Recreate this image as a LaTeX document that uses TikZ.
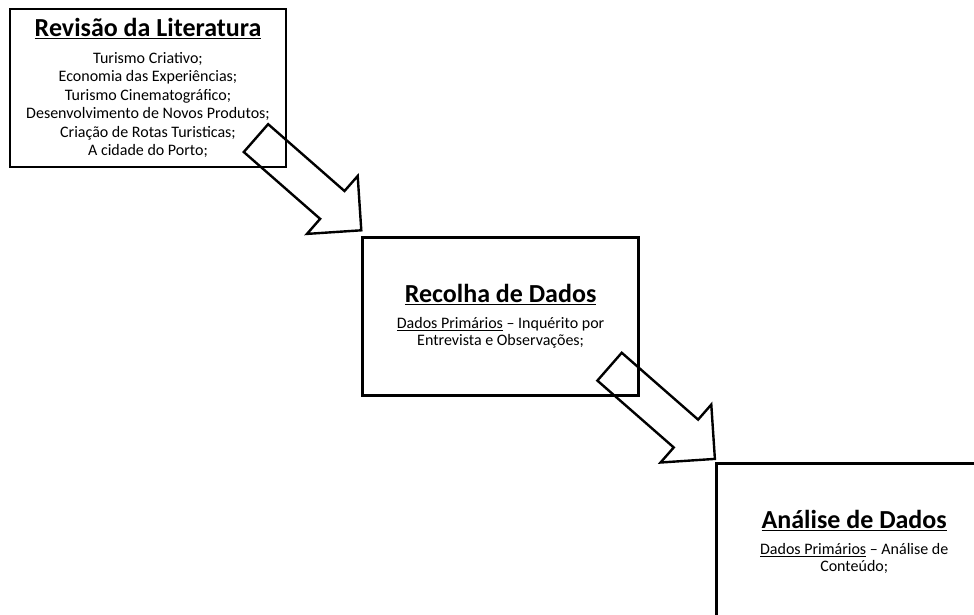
\documentclass[tikz,border=0pt]{standalone}
\usepackage{fontspec}
\setmainfont{Carlito}
\usetikzlibrary{positioning, calc}
\tikzstyle{stage} = [rectangle, draw=black, line width=2.6pt, minimum width=276pt, minimum height=158pt, align=center, inner sep=0pt, font=\fontsize{16}{17.5}\selectfont]
\tikzstyle{blockarrow} = [draw=black, line width=2.4pt, line join=miter, rotate=-41.2]
\newcommand{\heading}[1]{{\fontsize{26}{30}\selectfont\bfseries\underline{#1}}}

\begin{document}
\begin{tikzpicture}[x=1pt, y=1pt]
    \useasboundingbox (0,0) rectangle (974,-615);
    \clip (0,0) rectangle (974,-615);

    \node (revisao) [stage, font=\fontsize{16}{18.5}\selectfont] at (148,-88) {\heading{Revisão da Literatura}\\[8pt] Turismo Criativo;\\ Economia das Experiências;\\ Turismo Cinematográfico;\\ Desenvolvimento de Novos Produtos;\\ Criação de Rotas Turisticas;\\ A cidade do Porto;};
    \node (recolha) [stage, below right=68pt and 74pt of revisao] {\heading{Recolha de Dados}\\[8pt] \underline{Dados Primários} -- Inquérito por\\ Entrevista e Observações;};
    \node (analise) [stage, below right=65pt and 75pt of recolha] {\heading{Análise de Dados}\\[8pt] \underline{Dados Primários} -- Análise de\\ Conteúdo;};

    % block arrows, tip at the corner of the next box
    \coordinate (tip1) at ($(recolha.north west)+(0,6)$);
    \coordinate (tip2) at ($(analise.north west)+(0,3)$);
    \draw [blockarrow, shift={(tip1)}] (0,0) -- (-38.5,38.5) -- (-38.5,18.5) -- (-140,18.5) -- (-140,-18.5) -- (-38.5,-18.5) -- (-38.5,-38.5) -- cycle;
    \draw [blockarrow, shift={(tip2)}] (0,0) -- (-38.5,38.5) -- (-38.5,18.5) -- (-140,18.5) -- (-140,-18.5) -- (-38.5,-18.5) -- (-38.5,-38.5) -- cycle;

\end{tikzpicture}
\end{document}
